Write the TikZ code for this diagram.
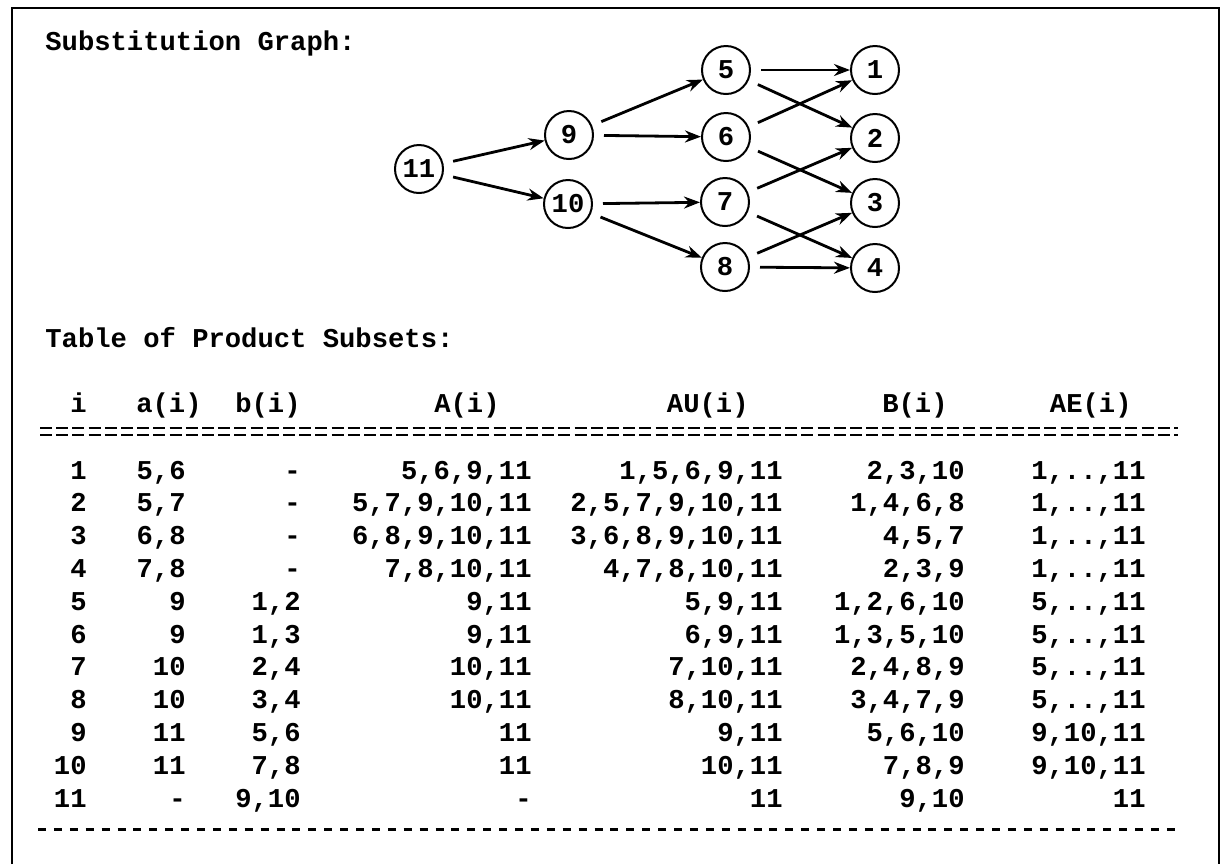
\documentclass[tikz,border=0pt]{standalone}
\usepackage{fontspec}
\setmonofont{Liberation Mono}
\usetikzlibrary{arrows.meta}

\begin{document}
\begin{tikzpicture}[
  x=0.5pt, y=-0.5pt,
  font=\ttfamily\bfseries\fontsize{13.6}{16}\selectfont,
  vertex/.style={draw, circle, line width=1pt, minimum size=24pt, inner sep=0pt},
  arr/.style={-{Stealth[length=8pt, width=6pt]}, line width=1.4pt, shorten <=5pt},
  cell/.style={anchor=base east, inner sep=0pt},
  heading/.style={anchor=base west, inner sep=0pt},
  rule/.style={line width=1pt, dash pattern=on 6pt off 2.1pt},
]
\useasboundingbox (0,0) rectangle (1223,864);

% ---------- frame ----------
\draw[line width=1.2pt] (12,864) -- (12,8) -- (1219,8) -- (1219,864);

% ---------- graph ----------
\node[heading] (gtitle) at (45,50) {Substitution Graph:};

\node[vertex] (n11) at (419,169) {11};
\node[vertex] (n9)  at (569,135) {9};
\node[vertex] (n10) at (568,204) {10};
\node[vertex] (n5)  at (726,70)  {5};
\node[vertex] (n6)  at (726,137) {6};
\node[vertex] (n7)  at (725,202) {7};
\node[vertex] (n8)  at (725,267) {8};
\node[vertex] (n1)  at (875,70)  {1};
\node[vertex] (n2)  at (875,138) {2};
\node[vertex] (n3)  at (875,203) {3};
\node[vertex] (n4)  at (875,268) {4};

\foreach \s/\t in {11/9, 11/10, 9/5, 9/6, 10/7, 10/8, 5/1, 5/2,
                   6/1, 6/3, 7/2, 7/4, 8/3, 8/4}
  \draw[arr] (n\s) -- (n\t);

% ---------- table ----------
\node[heading] (ttitle) at (45,347) {Table of Product Subsets:};

\node[cell] (hi)  at (87,412)   {i};
\node[cell] (ha)  at (202,412)  {a(i)};
\node[cell] (hb)  at (301,412)  {b(i)};
\node[cell] (hA)  at (500,412)  {A(i)};
\node[cell] (hAU) at (749,412)  {AU(i)};
\node[cell] (hB)  at (948,412)  {B(i)};
\node[cell] (hAE) at (1132,412) {AE(i)};

\draw[rule] (40,428) -- (1178,428);
\draw[rule] (40,434.5) -- (1178,434.5);

\foreach \r/\ca/\cb/\cA/\cAU/\cB/\cAE in {
  1/{5,6}/-/{5,6,9,11}/{1,5,6,9,11}/{2,3,10}/{1,..,11},
  2/{5,7}/-/{5,7,9,10,11}/{2,5,7,9,10,11}/{1,4,6,8}/{1,..,11},
  3/{6,8}/-/{6,8,9,10,11}/{3,6,8,9,10,11}/{4,5,7}/{1,..,11},
  4/{7,8}/-/{7,8,10,11}/{4,7,8,10,11}/{2,3,9}/{1,..,11},
  5/9/{1,2}/{9,11}/{5,9,11}/{1,2,6,10}/{5,..,11},
  6/9/{1,3}/{9,11}/{6,9,11}/{1,3,5,10}/{5,..,11},
  7/10/{2,4}/{10,11}/{7,10,11}/{2,4,8,9}/{5,..,11},
  8/10/{3,4}/{10,11}/{8,10,11}/{3,4,7,9}/{5,..,11},
  9/11/{5,6}/11/{9,11}/{5,6,10}/{9,10,11},
  10/11/{7,8}/11/{10,11}/{7,8,9}/{9,10,11},
  11/-/{9,10}/-/11/{9,10}/11}{
  \pgfmathsetmacro\yb{479+(\r-1)*32.8}
  \node[cell] (i\r)  at (87,\yb)   {\r};
  \node[cell] (a\r)  at (186,\yb)  {\ca};
  \node[cell] (b\r)  at (301,\yb)  {\cb};
  \node[cell] (A\r)  at (532,\yb)  {\cA};
  \node[cell] (AU\r) at (783,\yb)  {\cAU};
  \node[cell] (B\r)  at (965,\yb)  {\cB};
  \node[cell] (AE\r) at (1146,\yb) {\cAE};
}

\draw[line width=1.5pt, dash pattern=on 4pt off 3.95pt] (38,829) -- (1175,829);

\end{tikzpicture}
\end{document}
